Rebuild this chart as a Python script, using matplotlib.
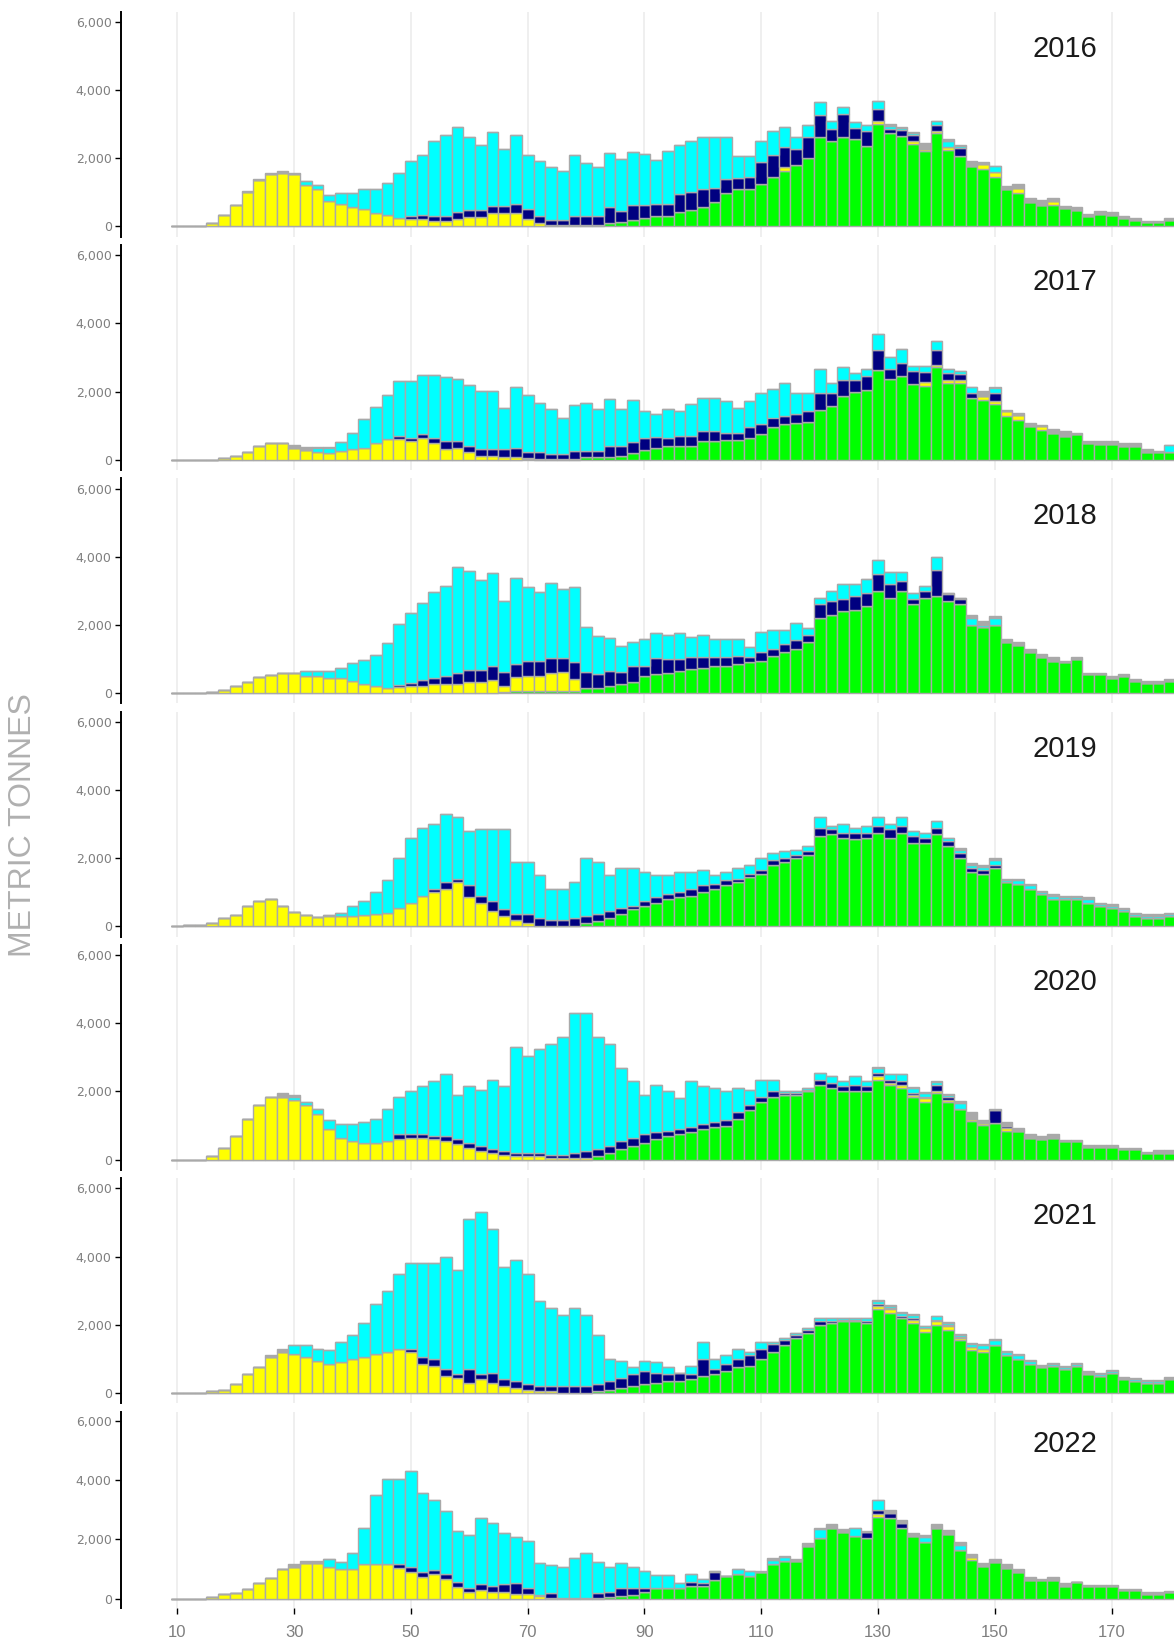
import numpy as np
import matplotlib.pyplot as plt
from matplotlib import font_manager

# length bins (cm), one bar every 2 cm
lengths = np.arange(10, 182, 2)

# stacked tops, thousands of tonnes
# order bottom -> top: green, yellow, navy, cyan, grey (total)
green_2016 = [0,0,0,0,0,0,0,0,0,0,
              0,0,0,0,0,0,0,0,0,0,
              0,0,0,0,0,0,0,0,0,0,
              0,0,0,0,0,0,0,.09,.14,.19,
              .26,.31,.31,.41,.49,.56,.73,.97,1.09,1.09,
              1.26,1.46,1.63,1.8,2.02,2.61,2.51,2.61,2.56,2.37,
              3.02,2.73,2.66,2.43,2.2,2.73,2.24,2.07,1.78,1.68,
              1.46,1.09,.97,.73,.64,.64,.54,.48,.31,.38,
              .33,.26,.2,.13,.13,.19]
yellow_2016 = [0,0,0,.1,.34,.64,1.0,1.36,1.53,1.58,
               1.55,1.21,1.09,.75,.67,.58,.5,.4,.33,.26,
               .21,.21,.15,.15,.21,.28,.28,.4,.4,.4,
               .23,.1,.03,.03,.03,.03,.03,.09,.14,.19,
               .26,.31,.31,.41,.49,.56,.73,.97,1.09,1.09,
               1.26,1.46,1.73,1.8,2.02,2.61,2.51,2.61,2.56,2.37,
               3.1,2.73,2.66,2.51,2.27,2.81,2.34,2.07,1.78,1.83,
               1.61,1.09,1.14,.73,.64,.75,.54,.48,.31,.38,
               .33,.26,.2,.13,.13,.19]
navy_2016 = [0,0,0,.1,.34,.64,1.0,1.36,1.53,1.58,
             1.55,1.21,1.09,.75,.67,.58,.5,.4,.33,.26,
             .32,.33,.31,.31,.41,.49,.49,.6,.6,.67,
             .51,.31,.19,.19,.31,.31,.31,.56,.44,.63,
             .63,.67,.67,.95,1.02,1.09,1.14,1.39,1.41,1.46,
             1.88,2.09,2.32,2.27,2.61,3.27,2.85,3.31,2.9,2.79,
             3.44,2.85,2.83,2.69,2.27,2.97,2.34,2.3,1.78,1.83,
             1.61,1.09,1.14,.73,.64,.75,.54,.48,.31,.38,
             .33,.26,.2,.13,.13,.19]
cyan_2016 = [0,0,0,.1,.34,.64,1.0,1.36,1.53,1.58,
             1.55,1.34,1.22,.92,.99,.98,1.11,1.1,1.28,1.56,
             1.93,2.09,2.51,2.69,2.92,2.61,2.39,2.76,2.27,2.69,
             2.09,1.93,1.75,1.63,2.09,1.86,1.75,2.15,1.97,2.17,
             2.12,1.96,2.2,2.39,2.51,2.63,2.63,2.63,2.07,2.07,
             2.51,2.81,2.92,2.61,2.98,3.64,3.1,3.51,3.05,2.98,
             3.69,2.95,2.88,2.74,2.27,3.1,2.52,2.36,1.78,1.83,
             1.76,1.09,1.14,.73,.64,.75,.54,.48,.31,.38,
             .33,.26,.2,.13,.13,.19]
total_2016 = [0,0,0,.1,.34,.64,1.05,1.39,1.56,1.63,
              1.58,1.34,1.22,.92,.99,.98,1.11,1.1,1.28,1.56,
              1.93,2.09,2.51,2.69,2.92,2.61,2.39,2.76,2.27,2.69,
              2.09,1.93,1.75,1.63,2.09,1.86,1.75,2.15,1.97,2.17,
              2.12,1.96,2.2,2.39,2.51,2.63,2.63,2.63,2.07,2.07,
              2.51,2.81,2.92,2.61,2.98,3.64,3.1,3.51,3.05,2.98,
              3.69,3.02,2.92,2.76,2.46,3.1,2.56,2.39,1.93,1.88,
              1.78,1.19,1.24,.83,.77,.83,.59,.56,.38,.46,
              .41,.31,.26,.17,.17,.24]

green_2017 = [0,0,0,0,0,0,0,0,0,0,
              0,0,0,0,0,0,0,0,0,0,
              0,0,0,0,0,0,0,0,0,0,
              .02,0,0,0,0,.09,.07,.07,.12,.19,
              .28,.36,.41,.41,.41,.54,.54,.58,.58,.65,
              .77,.95,1.05,1.07,1.12,1.47,1.58,1.88,2.0,2.04,
              2.63,2.37,2.46,2.22,2.17,2.71,2.24,2.24,1.81,1.75,
              1.63,1.29,1.16,1.0,.87,.8,.7,.75,.48,.46,
              .46,.39,.39,.22,.22,.22]
yellow_2017 = [0,0,0,0,.05,.12,.24,.41,.48,.48,
               .36,.28,.24,.19,.26,.33,.36,.48,.61,.61,
               .56,.63,.49,.31,.36,.24,.12,.12,.09,.09,
               .05,.03,.03,.03,.03,.09,.07,.07,.12,.19,
               .28,.36,.41,.41,.41,.54,.54,.58,.58,.65,
               .77,.95,1.05,1.07,1.12,1.47,1.58,1.88,2.0,2.04,
               2.63,2.37,2.46,2.22,2.27,2.79,2.34,2.34,1.81,1.88,
               1.73,1.42,1.32,1.0,1.0,.8,.7,.75,.48,.46,
               .46,.39,.39,.22,.22,.22]
navy_2017 = [0,0,0,0,.05,.12,.24,.41,.48,.48,
             .36,.28,.24,.19,.26,.33,.36,.48,.61,.7,
             .65,.77,.65,.54,.54,.41,.31,.31,.31,.34,
             .23,.23,.17,.17,.26,.26,.26,.41,.41,.53,
             .64,.67,.64,.7,.7,.85,.85,.8,.8,.95,
             1.05,1.24,1.29,1.34,1.44,1.97,1.97,2.34,2.34,2.46,
             3.22,2.66,2.85,2.61,2.58,3.22,2.56,2.51,1.97,1.88,
             1.97,1.42,1.32,1.0,1.0,.8,.7,.75,.48,.46,
             .46,.39,.39,.22,.22,.22]
cyan_2017 = [0,0,0,0,.05,.12,.24,.41,.48,.48,
             .36,.28,.36,.36,.51,.8,1.19,1.55,1.91,2.32,
             2.32,2.49,2.49,2.43,2.37,2.2,2.02,2.02,1.53,2.14,
             1.9,1.68,1.49,1.24,1.6,1.68,1.49,1.78,1.49,1.74,
             1.44,1.34,1.49,1.42,1.65,1.81,1.81,1.71,1.53,1.71,
             1.96,2.07,2.25,1.95,1.95,2.66,2.24,2.73,2.56,2.66,
             3.7,3.02,3.25,2.76,2.76,3.49,2.66,2.61,2.14,1.88,
             2.12,1.42,1.32,1.0,1.0,.8,.7,.75,.48,.46,
             .46,.39,.39,.22,.22,.44]
total_2017 = [0,0,0,0,.05,.12,.24,.41,.48,.48,
              .44,.38,.36,.36,.51,.8,1.19,1.55,1.91,2.32,
              2.32,2.49,2.49,2.43,2.37,2.2,2.02,2.02,1.53,2.14,
              1.9,1.68,1.49,1.24,1.6,1.68,1.49,1.78,1.49,1.74,
              1.44,1.34,1.49,1.42,1.65,1.81,1.81,1.71,1.53,1.71,
              1.96,2.07,2.25,1.95,1.95,2.66,2.24,2.73,2.56,2.66,
              3.7,3.02,3.25,2.76,2.76,3.49,2.66,2.61,2.14,2.02,
              2.12,1.45,1.36,1.09,1.03,.9,.85,.8,.56,.56,
              .54,.48,.48,.31,.27,.44]

green_2018 = [0,0,0,0,0,0,0,0,0,0,
              0,0,0,0,0,0,0,0,0,0,
              0,0,0,0,0,0,0,0,.03,.07,
              .07,.07,.07,.07,.07,.14,.14,.22,.28,.33,
              .49,.56,.6,.65,.7,.75,.8,.8,.85,.9,
              .95,1.1,1.2,1.3,1.5,2.2,2.3,2.4,2.45,2.55,
              3.0,2.8,3.0,2.6,2.8,2.85,2.7,2.6,2.0,1.95,
              2.0,1.5,1.4,1.2,1.05,.95,.9,1.0,.55,.55,
              .45,.5,.35,.3,.3,.35]
yellow_2018 = [0,0,0,.04,.1,.22,.33,.46,.53,.59,
               .59,.51,.51,.44,.44,.34,.26,.2,.14,.17,
               .22,.22,.28,.28,.28,.33,.33,.39,.22,.46,
               .51,.51,.58,.63,.41,.14,.14,.22,.28,.33,
               .49,.56,.6,.65,.7,.75,.8,.8,.85,.9,
               .95,1.1,1.2,1.3,1.5,2.2,2.3,2.4,2.45,2.55,
               3.0,2.8,3.0,2.6,2.8,2.85,2.7,2.6,2.0,1.95,
               2.0,1.5,1.4,1.2,1.05,.95,.9,1.0,.55,.55,
               .45,.5,.35,.3,.3,.35]
navy_2018 = [0,0,0,.04,.1,.22,.33,.46,.53,.59,
             .59,.51,.51,.44,.44,.34,.26,.2,.14,.24,
             .31,.38,.44,.51,.58,.67,.67,.8,.61,.85,
             .95,.95,1.02,1.02,.9,.61,.56,.65,.61,.8,
             .8,1.02,1.0,1.0,1.05,1.05,1.05,1.05,1.1,1.05,
             1.2,1.3,1.45,1.55,1.7,2.6,2.7,2.75,2.85,2.95,
             3.5,3.2,3.3,2.75,3.0,3.6,2.9,2.75,2.0,1.95,
             2.0,1.5,1.4,1.2,1.05,.95,.9,1.0,.55,.55,
             .45,.5,.35,.3,.3,.35]
cyan_2018 = [0,0,0,.04,.1,.22,.33,.46,.53,.59,
             .59,.64,.64,.64,.75,.88,.98,1.11,1.46,2.04,
             2.34,2.63,2.97,3.15,3.69,3.57,3.32,3.52,2.69,3.39,
             3.1,2.97,3.22,3.05,3.1,1.93,1.68,1.63,1.39,1.51,
             1.58,1.75,1.7,1.75,1.65,1.7,1.6,1.6,1.6,1.35,
             1.8,1.85,1.85,2.05,1.9,2.8,3.0,3.2,3.2,3.35,
             3.9,3.55,3.55,2.95,3.15,4.0,2.95,2.8,2.2,2.0,
             2.2,1.5,1.4,1.2,1.05,.95,.9,1.0,.55,.55,
             .45,.5,.35,.3,.3,.35]
total_2018 = [0,0,0,.04,.1,.22,.33,.46,.53,.59,
              .59,.64,.64,.64,.75,.88,.98,1.11,1.46,2.04,
              2.34,2.63,2.97,3.15,3.69,3.57,3.32,3.52,2.69,3.39,
              3.1,2.97,3.22,3.05,3.1,1.93,1.68,1.63,1.39,1.51,
              1.58,1.75,1.7,1.75,1.65,1.7,1.6,1.6,1.6,1.35,
              1.8,1.85,1.85,2.05,1.9,2.8,3.0,3.2,3.2,3.35,
              3.9,3.55,3.55,2.95,3.15,4.0,2.95,2.8,2.3,2.1,
              2.25,1.6,1.5,1.3,1.15,1.05,.95,1.05,.6,.6,
              .5,.55,.4,.35,.35,.4]

green_2019 = [0,0,0,0,0,0,0,0,0,0,
              0,0,0,0,0,0,0,0,0,0,
              0,0,0,0,0,0,0,0,0,0,
              0,0,0,0,0,.1,.15,.25,.35,.5,
              .6,.7,.8,.85,.9,1.0,1.1,1.2,1.3,1.45,
              1.55,1.8,1.9,2.0,2.1,2.65,2.7,2.6,2.55,2.6,
              2.75,2.6,2.75,2.45,2.45,2.7,2.35,2.0,1.6,1.55,
              1.7,1.3,1.25,1.1,.95,.8,.8,.8,.7,.6,
              .55,.45,.3,.25,.25,.3]
yellow_2019 = [0,.03,.03,.1,.25,.33,.6,.73,.8,.6,
               .43,.33,.27,.3,.3,.3,.33,.35,.4,.55,
               .7,.9,1.0,1.1,1.3,.85,.7,.45,.3,.2,
               .1,0,0,0,0,.1,.15,.25,.35,.5,
               .6,.7,.8,.85,.9,1.0,1.1,1.2,1.3,1.45,
               1.55,1.8,1.9,2.0,2.1,2.65,2.7,2.6,2.55,2.6,
               2.75,2.6,2.75,2.45,2.45,2.7,2.35,2.0,1.6,1.55,
               1.7,1.3,1.25,1.1,.95,.8,.8,.8,.7,.6,
               .55,.45,.3,.25,.25,.3]
navy_2019 = [0,.03,.03,.1,.25,.33,.6,.73,.8,.6,
             .43,.33,.27,.3,.3,.3,.33,.35,.4,.55,
             .7,.9,1.1,1.3,1.4,1.2,.9,.75,.5,.35,
             .35,.25,.2,.2,.25,.3,.35,.45,.55,.6,
             .75,.85,.95,1.0,1.1,1.2,1.25,1.35,1.4,1.55,
             1.65,1.95,2.0,2.1,2.2,2.9,2.85,2.75,2.75,2.75,
             2.95,2.85,2.95,2.65,2.6,2.9,2.5,2.15,1.7,1.65,
             1.8,1.3,1.25,1.1,.95,.8,.8,.8,.7,.6,
             .55,.45,.3,.25,.25,.3]
cyan_2019 = [0,.03,.03,.1,.25,.33,.6,.73,.8,.6,
             .43,.33,.27,.32,.4,.6,.75,1.0,1.35,2.0,
             2.6,2.9,3.0,3.3,3.2,2.8,2.85,2.85,2.85,1.9,
             1.9,1.5,1.1,1.1,1.3,2.0,1.9,1.5,1.7,1.7,
             1.6,1.5,1.5,1.6,1.6,1.65,1.5,1.6,1.7,1.8,
             2.0,2.15,2.2,2.25,2.35,3.2,2.95,3.0,2.9,2.95,
             3.2,3.0,3.2,2.8,2.75,3.1,2.6,2.25,1.8,1.75,
             1.95,1.35,1.35,1.2,1.0,.9,.85,.85,.8,.65,
             .6,.5,.35,.3,.3,.35]
total_2019 = [0,.03,.03,.1,.25,.33,.6,.73,.8,.6,
              .43,.33,.27,.32,.4,.6,.75,1.0,1.35,2.0,
              2.6,2.9,3.0,3.3,3.2,2.8,2.85,2.85,2.85,1.9,
              1.9,1.5,1.1,1.1,1.3,2.0,1.9,1.5,1.7,1.7,
              1.6,1.5,1.5,1.6,1.6,1.65,1.5,1.6,1.7,1.8,
              2.0,2.15,2.2,2.25,2.35,3.2,2.95,3.0,2.9,2.95,
              3.2,3.0,3.2,2.8,2.75,3.1,2.6,2.3,1.85,1.8,
              2.0,1.4,1.4,1.25,1.05,.95,.9,.9,.85,.7,
              .65,.55,.4,.35,.35,.4]

green_2020 = [0,0,0,0,0,0,0,0,0,0,
              0,0,0,0,0,0,0,0,0,0,
              0,0,0,0,0,0,0,0,0,0,
              0,0,0,0,0,0,.1,.2,.3,.4,
              .5,.6,.7,.75,.8,.9,.95,1.0,1.2,1.45,
              1.7,1.85,1.9,1.9,2.0,2.2,2.1,2.0,2.0,2.0,
              2.35,2.2,2.1,1.85,1.7,1.95,1.7,1.48,1.13,1.02,
              1.07,.84,.84,.65,.6,.65,.55,.55,.36,.36,
              .36,.3,.3,.19,.19,.19]
yellow_2020 = [0,0,0,.1,.35,.7,1.2,1.6,1.85,1.85,
               1.75,1.6,1.35,.9,.65,.55,.5,.5,.55,.6,
               .65,.65,.6,.55,.45,.35,.25,.2,.15,.1,
               .1,.1,.05,.05,.05,.05,.1,.2,.3,.4,
               .5,.6,.7,.75,.8,.9,.95,1.0,1.2,1.45,
               1.7,1.85,1.9,1.9,2.0,2.2,2.1,2.0,2.0,2.0,
               2.45,2.25,2.2,1.9,1.8,2.0,1.75,1.5,1.2,1.07,
               1.07,.92,.84,.65,.6,.65,.55,.55,.36,.36,
               .36,.3,.3,.19,.19,.19]
navy_2020 = [0,0,0,.1,.35,.7,1.2,1.6,1.85,1.85,
             1.75,1.6,1.35,.9,.65,.55,.5,.5,.55,.75,
             .75,.75,.7,.7,.6,.5,.4,.3,.25,.2,
             .2,.2,.15,.15,.2,.25,.3,.4,.55,.65,
             .75,.8,.85,.9,.95,1.05,1.1,1.15,1.4,1.6,
             1.85,2.0,1.95,1.95,2.05,2.35,2.25,2.15,2.2,2.15,
             2.55,2.35,2.3,1.95,1.85,2.2,1.85,1.5,1.2,1.07,
             1.47,1.0,.84,.65,.6,.65,.55,.55,.36,.36,
             .36,.3,.3,.19,.19,.19]
cyan_2020 = [0,0,0,.1,.35,.7,1.2,1.6,1.85,1.85,
             1.85,1.7,1.5,1.15,1.05,1.05,1.1,1.2,1.5,1.85,
             2.0,2.15,2.3,2.5,1.9,2.15,2.05,2.35,2.15,3.3,
             3.05,3.25,3.4,3.6,4.3,4.3,3.6,3.4,2.7,2.3,
             1.9,2.2,2.0,1.8,2.3,2.15,2.1,2.0,2.1,2.05,
             2.35,2.35,2.0,2.0,2.1,2.55,2.45,2.3,2.45,2.3,
             2.7,2.5,2.5,2.1,1.95,2.28,1.9,1.65,1.2,1.07,
             1.47,1.0,.84,.65,.6,.65,.55,.55,.36,.36,
             .36,.3,.3,.19,.19,.19]
total_2020 = [0,0,0,.1,.35,.7,1.2,1.6,1.85,1.95,
              1.9,1.7,1.5,1.15,1.05,1.05,1.1,1.2,1.5,1.85,
              2.0,2.15,2.3,2.5,1.9,2.15,2.05,2.35,2.15,3.3,
              3.05,3.25,3.4,3.6,4.3,4.3,3.6,3.4,2.7,2.3,
              1.9,2.2,2.0,1.8,2.3,2.15,2.1,2.0,2.1,2.05,
              2.35,2.35,2.0,2.0,2.1,2.55,2.45,2.3,2.45,2.3,
              2.73,2.52,2.52,2.13,1.98,2.32,1.93,1.72,1.41,1.16,
              1.5,1.11,.92,.75,.69,.75,.58,.58,.43,.43,
              .43,.35,.35,.23,.28,.28]

green_2021 = [0,0,0,0,0,0,0,0,0,0,
              0,0,0,0,0,0,0,0,0,0,
              0,0,0,0,0,0,0,0,0,0,
              0,0,0,0,0,0,.05,.1,.15,.2,
              .25,.3,.35,.35,.4,.5,.55,.65,.75,.8,
              1.0,1.2,1.4,1.6,1.75,2.0,2.05,2.1,2.1,2.05,
              2.45,2.35,2.2,2.05,1.8,2.0,1.85,1.55,1.25,1.2,
              1.4,1.1,1.0,.85,.75,.8,.7,.8,.55,.5,
              .6,.4,.35,.3,.3,.4]
yellow_2021 = [0,0,0,.05,.1,.25,.55,.75,1.05,1.2,
               1.15,1.05,.95,.85,.9,1.0,1.05,1.15,1.2,1.3,
               1.2,.85,.8,.5,.45,.3,.4,.3,.2,.15,
               .1,.05,.05,0,0,0,.05,.1,.15,.2,
               .25,.3,.35,.35,.4,.5,.55,.65,.75,.8,
               1.0,1.2,1.4,1.6,1.75,2.0,2.05,2.1,2.1,2.05,
               2.55,2.45,2.2,2.15,1.9,2.1,1.95,1.6,1.35,1.3,
               1.4,1.1,1.0,.85,.75,.8,.7,.8,.55,.5,
               .6,.4,.35,.3,.3,.4]
navy_2021 = [0,0,0,.05,.1,.25,.55,.75,1.05,1.2,
             1.15,1.05,.95,.85,.9,1.0,1.05,1.15,1.2,1.3,
             1.3,1.05,1.0,.7,.55,.7,.55,.6,.4,.35,
             .25,.2,.2,.2,.2,.2,.25,.35,.45,.55,
             .65,.6,.55,.6,.55,1.0,.7,.85,1.0,1.1,
             1.3,1.45,1.55,1.7,1.85,2.1,2.1,2.15,2.15,2.1,
             2.6,2.5,2.25,2.2,1.9,2.15,2.0,1.65,1.35,1.3,
             1.4,1.1,1.0,.85,.75,.8,.7,.8,.55,.5,
             .6,.4,.35,.3,.3,.4]
cyan_2021 = [0,0,0,.05,.1,.25,.55,.75,1.05,1.2,
             1.4,1.4,1.3,1.25,1.5,1.7,2.05,2.6,3.0,3.5,
             3.8,3.8,3.8,4.0,3.6,5.1,5.3,4.8,3.7,3.9,
             3.5,2.7,2.5,2.3,2.5,2.3,1.7,1.0,.95,.75,
             .95,.9,.75,.6,.8,1.5,1.0,1.1,1.3,1.2,
             1.5,1.5,1.6,1.75,1.9,2.2,2.2,2.2,2.2,2.2,
             2.7,2.55,2.35,2.3,1.95,2.25,2.05,1.7,1.45,1.4,
             1.55,1.2,1.1,.95,.8,.85,.75,.85,.6,.55,
             .65,.45,.4,.35,.35,.45]
total_2021 = [0,0,0,.05,.1,.25,.55,.75,1.1,1.3,
              1.4,1.4,1.3,1.25,1.5,1.7,2.05,2.6,3.0,3.5,
              3.8,3.8,3.8,4.0,3.6,5.1,5.3,4.8,3.7,3.9,
              3.5,2.7,2.5,2.3,2.5,2.3,1.7,1.0,.95,.75,
              .95,.9,.75,.6,.8,1.5,1.0,1.1,1.3,1.2,
              1.5,1.5,1.6,1.75,1.9,2.2,2.2,2.2,2.2,2.2,
              2.72,2.57,2.37,2.32,1.97,2.27,2.07,1.72,1.48,1.43,
              1.58,1.23,1.13,.98,.83,.88,.78,.88,.63,.58,
              .68,.48,.43,.38,.38,.48]

green_2022 = [0,0,0,0,0,0,0,0,0,0,
              0,0,0,0,0,0,0,0,0,0,
              0,0,0,0,0,0,0,0,0,0,
              0,0,0,0,0,0,0,.07,.09,.12,
              .22,.36,.36,.36,.43,.43,.62,.76,.84,.76,
              .9,1.18,1.26,1.26,1.78,2.06,2.39,2.25,2.11,2.06,
              2.75,2.73,2.38,2.11,1.91,2.38,2.19,1.65,1.31,1.1,
              1.24,1.04,.9,.62,.62,.62,.43,.56,.43,.43,
              .43,.28,.28,.17,.17,.22]
yellow_2022 = [0,0,0,.07,.15,.21,.33,.54,.71,.99,
               1.08,1.19,1.19,1.08,.99,.99,1.16,1.16,1.16,1.04,
               .91,.74,.85,.66,.4,.24,.31,.24,.24,.16,
               .16,.1,.03,.03,.03,.03,.03,.07,.09,.12,
               .22,.36,.36,.36,.43,.43,.62,.76,.84,.76,
               .9,1.18,1.26,1.26,1.78,2.06,2.39,2.25,2.11,2.06,
               2.87,2.73,2.38,2.11,1.91,2.38,2.19,1.65,1.4,1.1,
               1.24,1.04,.9,.62,.62,.62,.43,.56,.43,.43,
               .43,.28,.28,.17,.17,.22]
navy_2022 = [0,0,0,.07,.15,.21,.33,.54,.71,.99,
             1.08,1.19,1.19,1.08,.99,.99,1.16,1.16,1.16,1.16,
             1.08,.89,.97,.83,.57,.38,.49,.43,.49,.52,
             .38,.12,.18,.03,.03,.03,.18,.24,.37,.37,
             .35,.36,.36,.36,.56,.52,.9,.76,.84,.76,
             .9,1.18,1.26,1.26,1.78,2.06,2.39,2.25,2.11,2.25,
             3.0,2.9,2.56,2.11,1.91,2.38,2.19,1.65,1.4,1.1,
             1.24,1.04,.9,.62,.62,.62,.43,.56,.43,.43,
             .43,.28,.28,.17,.17,.22]
cyan_2022 = [0,0,0,.07,.15,.21,.33,.54,.71,.99,
             1.08,1.19,1.19,1.34,1.25,1.53,2.37,3.49,4.02,4.02,
             4.3,3.57,3.31,2.97,2.28,2.15,2.71,2.56,2.22,2.09,
             1.94,1.19,1.13,1.08,1.36,1.55,1.25,1.08,1.19,1.08,
             .92,.79,.79,.53,.82,.67,.93,.76,.99,.93,
             .9,1.31,1.4,1.26,1.78,2.36,2.39,2.25,2.38,2.25,
             3.31,2.9,2.56,2.11,2.09,2.38,2.19,1.8,1.4,1.1,
             1.24,1.04,.9,.62,.62,.62,.43,.56,.43,.43,
             .43,.28,.28,.17,.17,.22]
total_2022 = [0,0,0,.07,.15,.21,.33,.54,.71,.99,
              1.16,1.28,1.28,1.34,1.25,1.53,2.37,3.49,4.02,4.02,
              4.3,3.57,3.31,2.97,2.28,2.15,2.71,2.56,2.22,2.09,
              1.94,1.19,1.13,1.08,1.36,1.55,1.25,1.08,1.19,1.08,
              .92,.79,.79,.53,.82,.67,.93,.76,.99,.93,
              .95,1.36,1.45,1.33,1.89,2.4,2.51,2.36,2.4,2.27,
              3.31,2.98,2.64,2.22,2.16,2.51,2.3,1.91,1.52,1.21,
              1.35,1.16,1.01,.73,.67,.75,.54,.56,.48,.48,
              .48,.34,.34,.22,.22,.26]

years = [2016, 2017, 2018, 2019, 2020, 2021, 2022]
stacks = {
    2016: [green_2016, yellow_2016, navy_2016, cyan_2016, total_2016],
    2017: [green_2017, yellow_2017, navy_2017, cyan_2017, total_2017],
    2018: [green_2018, yellow_2018, navy_2018, cyan_2018, total_2018],
    2019: [green_2019, yellow_2019, navy_2019, cyan_2019, total_2019],
    2020: [green_2020, yellow_2020, navy_2020, cyan_2020, total_2020],
    2021: [green_2021, yellow_2021, navy_2021, cyan_2021, total_2021],
    2022: [green_2022, yellow_2022, navy_2022, cyan_2022, total_2022],
}
fills = ['#00ff00', '#ffff00', '#000080', '#00ffff', '#a9a9a9']
edge = '#a9a9a9'

xticks = [10, 30, 50, 70, 90, 110, 130, 150, 170]

installed = {f.name for f in font_manager.fontManager.ttflist}
if 'Liberation Sans Narrow' in installed:
    year_font, year_size = 'Liberation Sans Narrow', 25
else:
    year_font, year_size = 'Liberation Sans', 21

W, H = 1174, 1643
fig = plt.figure(figsize=(W / 100, H / 100), dpi=100)
left = 120.7

for k, year in enumerate(years):
    if k < 6:
        top, h = 11.7 + 233.3 * k, 225
    else:
        top, h = 1411.7, 196
    ax = fig.add_axes([left / W, 1 - (top + h) / H, (W - left) / W, h / H])

    bottom = np.zeros(len(lengths))
    for tops, col in zip(stacks[year], fills):
        tops = np.array(tops) * 1000
        ax.bar(lengths, tops - bottom, bottom=bottom, width=2, color=col,
               edgecolor=edge, linewidth=1.0, zorder=2)
        bottom = tops

    for g in range(10, 200, 20):
        ax.axvline(g, color='#ebebeb', lw=1.1, zorder=0)

    ax.set_xlim(0.31, 180.67)
    ax.set_ylim(-300, 6300)
    for s in ['top', 'right', 'bottom']:
        ax.spines[s].set_visible(False)
    ax.spines['left'].set_linewidth(1.4)
    ax.set_yticks([0, 2000, 4000, 6000])
    ax.set_yticklabels(['0', '2,000', '4,000', '6,000'])
    ax.tick_params(axis='y', length=4.5, width=1, color='black', pad=2,
                   labelsize=9, labelcolor='#7f7f7f')
    if k < 6:
        ax.set_xticks([])
    else:
        ax.set_xticks(xticks)
        ax.set_xticklabels([str(t) for t in xticks])
        ax.tick_params(axis='x', length=4.5, width=1, color='black', pad=8,
                       labelsize=12, labelcolor='#7f7f7f')
        for lab in ax.get_xticklabels():
            lab.set_family('Liberation Sans')

    ax.text(162, 5200, str(year), ha='center', va='center', fontsize=year_size,
            family=year_font, color='#1a1a1a')

fig.text(23 / W, 1 - 825 / H, 'METRIC TONNES', rotation=90, ha='center', va='center',
         fontsize=23, color='#b0b0b0', family='Liberation Sans')

fig.savefig('out.png', dpi=100)
